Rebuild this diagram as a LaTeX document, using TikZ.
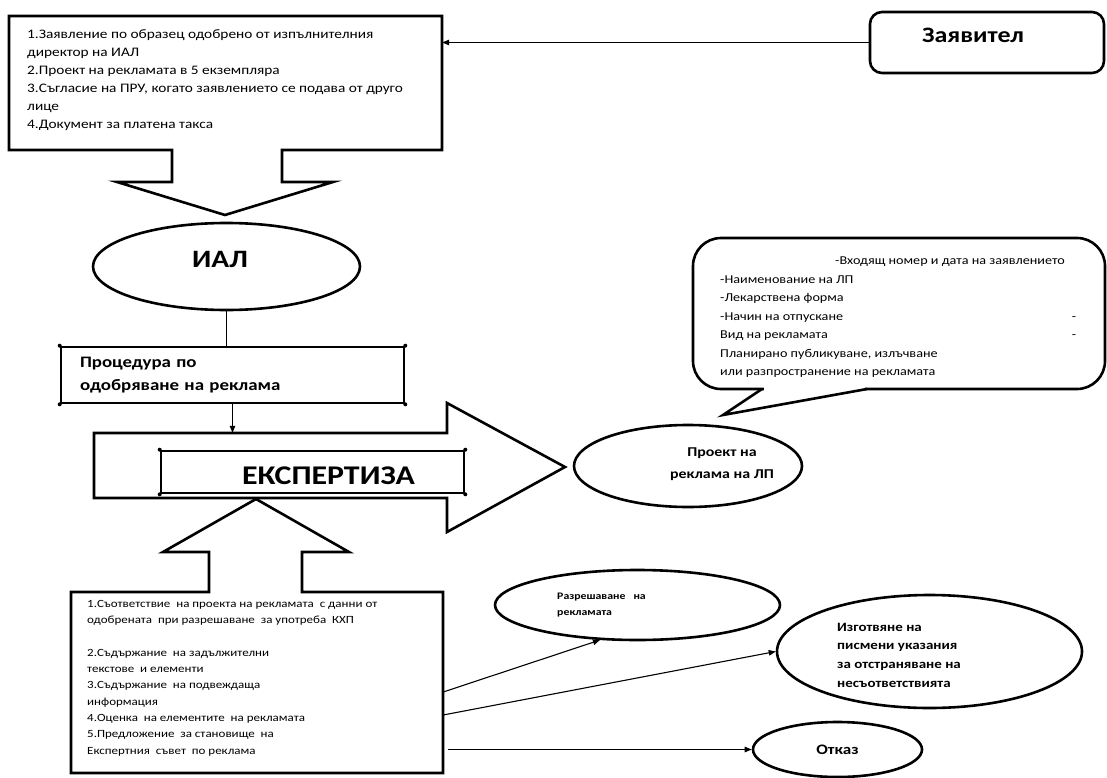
\documentclass[tikz,border=0pt]{standalone}
\usepackage{fontspec}
\setmainfont{Carlito}[FakeStretch=1.18]
\usetikzlibrary{arrows.meta,positioning,shapes.geometric}

\begin{document}
\begin{tikzpicture}[x=1pt,y=-1pt,
  bold/.style={draw,line width=2.6pt,line join=miter},
  panel/.style={draw,line width=2.6pt,inner sep=0pt},
  oval/.style={ellipse,draw,line width=2.6pt,inner sep=0pt},
  notes/.style={align=left,inner sep=0pt,anchor=north west},
  arr/.style={-{Triangle[length=7pt,width=5.5pt]},line width=1.1pt},
  link/.style={line width=1.3pt}
]
\useasboundingbox (0,0) rectangle (1107,778);

% documents with the down arrow
\draw[bold] (172,150) -- (9,150) -- (9,16) -- (442,16) -- (442,150) -- (282,150)
  -- (282,182) -- (333,182) -- (225,215) -- (117,182) -- (172,182) -- cycle;
\node[minimum width=433pt,minimum height=134pt] (docs) at (225.5,83) {};
\node[notes,font=\fontsize{13}{18}\selectfont] (doclist) at (27,29)
  {1.Заявление по образец одобрено от изпълнителния\\директор на ИАЛ\\2.Проект на рекламата в 5 екземпляра\\3.Съгласие на ПРУ, когато заявлението се подава от друго\\лице\\4.Документ за платена такса};

\node[panel,rounded corners=12pt,minimum width=234pt,minimum height=61pt,
  label={[font=\bfseries\fontsize{22}{24}\selectfont,xshift=-14pt,yshift=7.5pt]center:Заявител}] (applicant) at (987,42.5) {};
\draw[arr] (applicant.west) -- (applicant.west -| docs.east);

\node[oval,minimum width=267pt,minimum height=87pt,
  label={[font=\bfseries\fontsize{25}{30}\selectfont,xshift=-6.5pt,yshift=7.5pt]center:ИАЛ}] (ial) at (226.5,266.5) {};
\node[panel,minimum width=343pt,minimum height=56pt,text width=305pt,align=left,
  font=\bfseries\fontsize{16}{23}\selectfont] (proc) at (232.5,375) {Процедура по\\одобряване на реклама};
\foreach \c in {north west,north east,south west,south east}
  \fill (proc.\c) circle (2pt);
\draw[link] (ial.south) -- (ial.south |- proc.north);

% big arrow to the draft
\draw[bold] (94,433) -- (447,433) -- (447,403) -- (565,467) -- (447,532) -- (447,498)
  -- (94,498) -- cycle;
\node[minimum width=353pt,minimum height=65pt] (flow) at (270.5,465.5) {};
\draw[arr] (proc.south) -- (proc.south |- flow.north);
\node[panel,minimum width=303pt,minimum height=42pt,
  label={[font=\bfseries\fontsize{27}{30}\selectfont,xshift=16pt,yshift=-4pt]center:ЕКСПЕРТИЗА}] (expert) at (312.5,472) {};
\foreach \c in {north west,north east,south west,south east}
  \fill (expert.\c) circle (2pt);

% checks with the up arrow
\draw[bold] (209,592) -- (71,592) -- (71,773) -- (443,773) -- (443,592) -- (302,592)
  -- (302,552) -- (349,552) -- (256,499) -- (163,552) -- (209,552) -- cycle;
\node[minimum width=372pt,minimum height=181pt] (checks) at (257,682.5) {};
\node[notes,font=\fontsize{11}{16.3}\selectfont] (checklist) at (87,600)
  {1.Съответствие~ на проекта на рекламата~ с данни от\\одобрената~ при разрешаване~ за употреба~ КХП\\[16.3pt]2.Съдържание~ на задължителни\\текстове~ и елементи\\3.Съдържание~ на подвеждаща\\информация\\4.Оценка~ на елементите~ на рекламата\\5.Предложение~ за становище~ на\\Експертния~ съвет~ по реклама};

% speech bubble
\draw[bold,rounded corners=28pt] (693,238) rectangle (1105,389);
\fill[white] (764,386) rectangle (865,392);
\draw[bold] (762,389) -- (723,415) -- (867,389);
\node[notes,align=flush left,text width=356pt,font=\fontsize{12}{18.5}\selectfont] (info) at (720,257)
  {\hspace*{115pt}-Входящ номер и дата на заявлението\\-Наименование на ЛП\\-Лекарствена форма\\-Начин на отпускане\hspace{0pt plus 1fill}-\\Вид на рекламата\hspace{0pt plus 1fill}-\\Планирано публикуване, излъчване\\или разпространение на рекламата};

\node[oval,minimum width=228pt,minimum height=82pt,
  label={[font=\bfseries\fontsize{13.5}{22}\selectfont,align=center,xshift=34pt,yshift=2pt]center:{Проект на\\реклама на ЛП}}] (draft) at (688,466) {};

% outcomes
\node[oval,minimum width=285pt,minimum height=70pt,
  label={[align=left,font=\bfseries\fontsize{10}{16}\selectfont,xshift=-36pt,yshift=0pt]center:{Разрешаване~~~на\\рекламата}}] (allow) at (637.5,605) {};
\node[oval,minimum width=305pt,minimum height=113pt,
  label={[align=left,font=\bfseries\fontsize{12.7}{18.7}\selectfont,xshift=-30.5pt,yshift=-3.5pt]center:{Изготвяне на\\писмени указания\\за отстраняване на\\несъответствията}}] (fix) at (929.5,651.5) {};
\node[oval,minimum width=169pt,minimum height=55pt,font=\bfseries\fontsize{14.5}{20}\selectfont] (refuse) at (837.5,749.5) {Отказ};

\draw[arr] ([yshift=-9.5pt]checks.east) -- (allow.223);
\draw[arr] ([yshift=-32.5pt]checks.east) -- (fix.west);
\draw[arr,shorten <=5pt] (checks.east |- refuse.west) -- (refuse.west);
\end{tikzpicture}
\end{document}
